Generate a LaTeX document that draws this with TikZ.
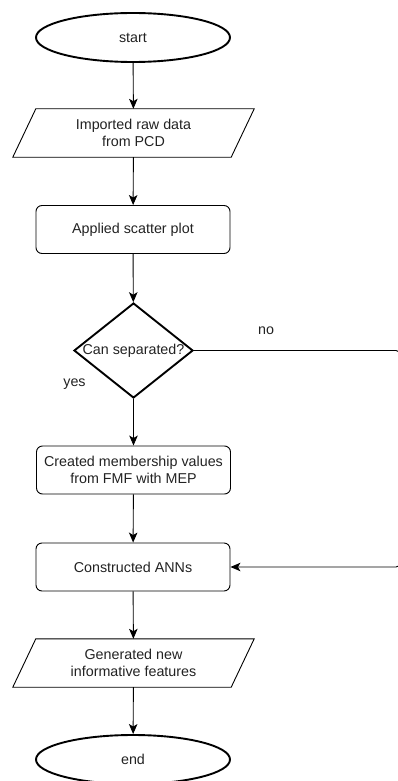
\documentclass[tikz,border=0pt]{standalone}
\usepackage{fontspec}
\setmainfont{Liberation Sans}
\usetikzlibrary{shapes.geometric,arrows.meta}
\definecolor{txt}{HTML}{222222}
\begin{document}
\begin{tikzpicture}[x=1pt,y=1pt,
  every node/.style={font=\fontsize{14.3}{16.5}\selectfont, text=txt, align=center},
  term/.style={ellipse, draw, line width=1.9pt, minimum width=194, minimum height=49, inner sep=0},
  procbox/.style={draw, line width=0.9pt, rounded corners=6pt, minimum width=194, minimum height=48, inner sep=0},
  ioframe/.style={minimum width=218, minimum height=48, inner sep=0},
  decision/.style={diamond, draw, line width=1.9pt, minimum width=119, minimum height=95, inner sep=0},
  conn/.style={line width=0.9pt, -{Stealth[length=10pt,width=8.5pt,inset=2.5pt]}},
  lbl/.style={inner sep=0}
]
\useasboundingbox (0,0) rectangle (398,-781);
\node[term] (start) at (133,-37.5) {start};
\node[ioframe] (io1) at (133.5,-133) {Imported raw data\\from PCD};
\draw[line width=0.9pt] ([xshift=11.5]io1.north west) -- ([xshift=11.5]io1.north east) -- ([xshift=-11.5]io1.south east) -- ([xshift=-11.5]io1.south west) -- cycle;
\node[procbox] (scatter) at (133,-229.5) {Applied scatter plot};
\node[decision, label={[lbl]center:Can separated?}] (dec) at (133.5,-350.5) {};
\node[procbox] (memb) at (133.5,-470) {Created membership values\\from FMF with MEP};
\node[procbox] (ann) at (133,-567) {Constructed ANNs};
\node[ioframe] (io2) at (133.5,-663) {Generated new\\informative features};
\draw[line width=0.9pt] ([xshift=11.5]io2.north west) -- ([xshift=11.5]io2.north east) -- ([xshift=-11.5]io2.south east) -- ([xshift=-11.5]io2.south west) -- cycle;
\node[term] (end) at (133,-759.5) {end};
\node[lbl] (no) at (266,-331) {no};
\node[lbl] (yes) at (74.5,-384) {yes};
\coordinate (r1) at (400,-350.5);
\coordinate (r2) at (400,-567);
\draw[conn] (start) -- (io1);
\draw[conn] (io1) -- (scatter);
\draw[conn] (scatter) -- (dec);
\draw[conn] (dec) -- (memb);
\draw[conn] (memb) -- (ann);
\draw[conn] (ann) -- (io2);
\draw[conn] (io2) -- (end);
\draw[conn, rounded corners=4pt] (dec.east) -- (r1) -- (r2) -- (ann.east);
\end{tikzpicture}
\end{document}
